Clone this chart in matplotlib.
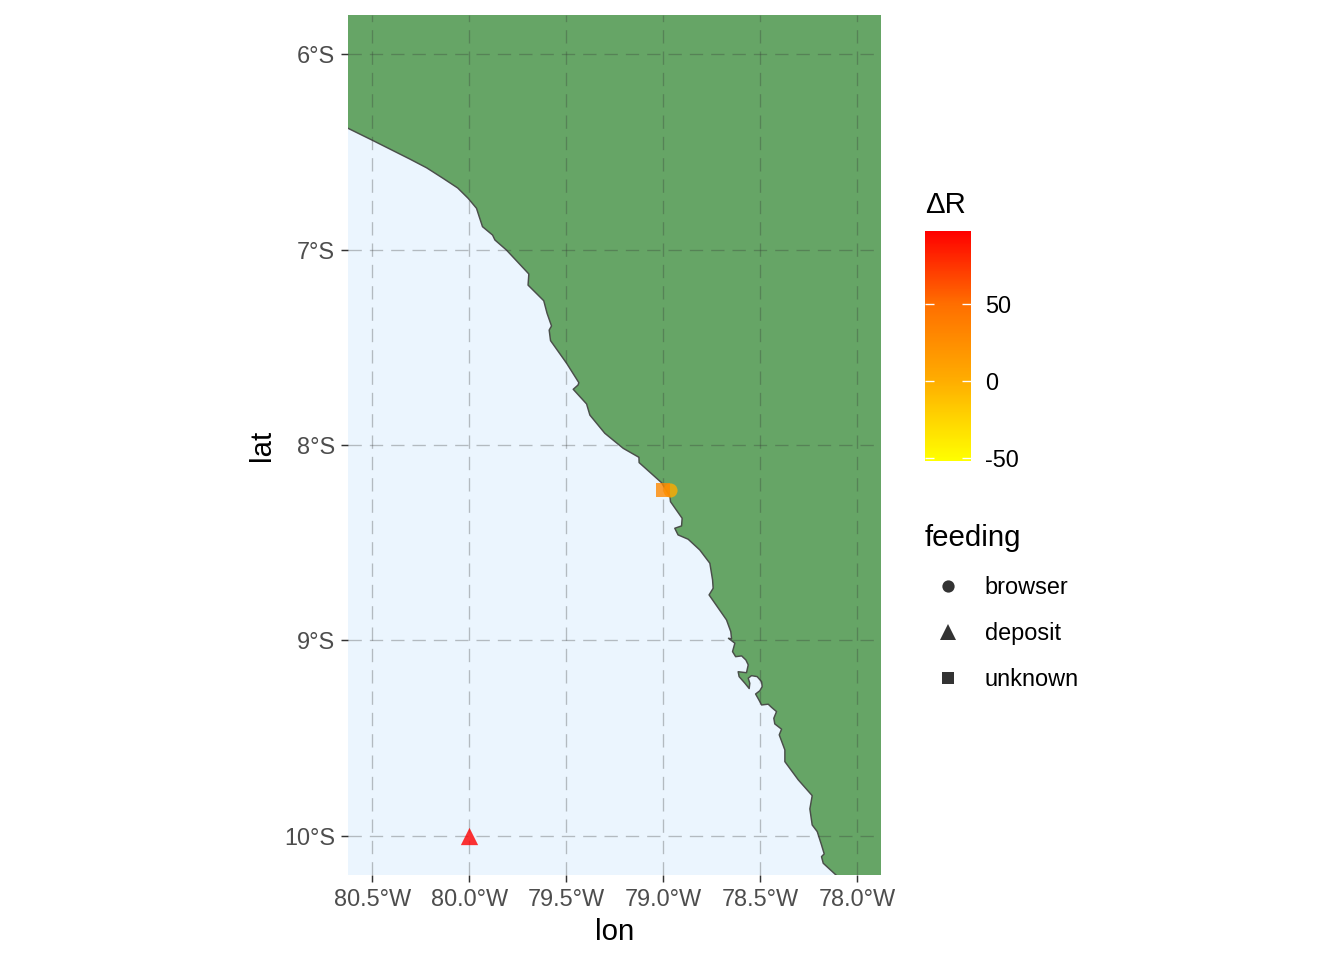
import matplotlib
matplotlib.use("Agg")
import matplotlib.pyplot as plt
from matplotlib.colors import LinearSegmentedColormap
from matplotlib.lines import Line2D
import numpy as np

plt.rcParams['font.family'] = ['Liberation Sans', 'DejaVu Sans']
plt.rcParams['axes.unicode_minus'] = False

# coastline, north to south
coast_lon = [-80.70, -80.625, -80.496, -80.307, -80.22, -80.135, -80.060, -80.006, -79.963, -79.949, -79.932, -79.880,
             -79.868, -79.808, -79.693, -79.697, -79.616, -79.599, -79.576, -79.588, -79.581, -79.498,
             -79.435, -79.439, -79.464, -79.395, -79.378, -79.301, -79.206, -79.125, -79.124, -79.008,
             -78.965, -78.962, -78.902, -78.905, -78.940, -78.923, -78.871, -78.811, -78.759, -78.745,
             -78.742, -78.763, -78.673, -78.651, -78.647, -78.663, -78.630, -78.642, -78.626, -78.595,
             -78.573, -78.561, -78.570, -78.613, -78.608, -78.578, -78.556, -78.553, -78.561, -78.544,
             -78.515, -78.492, -78.489, -78.501, -78.523, -78.506, -78.492, -78.458, -78.441, -78.415,
             -78.429, -78.424, -78.389, -78.401, -78.372, -78.372, -78.303,
             -78.231, -78.243, -78.231, -78.205, -78.183, -78.169, -78.183, -78.174, -78.105, -78.05]
coast_lat = [-6.34, -6.380, -6.443, -6.537, -6.582, -6.636, -6.685, -6.738, -6.789, -6.832, -6.883, -6.926,
             -6.951, -7.003, -7.125, -7.182, -7.262, -7.326, -7.391, -7.412, -7.466, -7.582,
             -7.681, -7.693, -7.715, -7.790, -7.847, -7.940, -8.017, -8.063, -8.090, -8.193,
             -8.264, -8.290, -8.375, -8.414, -8.426, -8.460, -8.482, -8.537, -8.605, -8.690,
             -8.733, -8.767, -8.895, -8.955, -8.992, -8.989, -9.014, -9.057, -9.083, -9.079,
             -9.100, -9.125, -9.165, -9.160, -9.185, -9.219, -9.246, -9.219, -9.193, -9.180,
             -9.185, -9.211, -9.236, -9.257, -9.274, -9.304, -9.330, -9.326, -9.342, -9.364,
             -9.398, -9.427, -9.454, -9.483, -9.560, -9.620, -9.713,
             -9.794, -9.862, -9.944, -9.978, -10.046, -10.092, -10.106, -10.140, -10.203, -10.25]

# sites
site_lon = [-78.965, -80.0, -79.0]
site_lat = [-8.23, -10.0, -8.23]
site_dr = [2, 97, 30]
site_feeding = ['browser', 'deposit', 'unknown']
feeding_names = ['browser', 'deposit', 'unknown']
feeding_markers = ['o', '^', 's']
feeding_sizes = [28, 42, 28]
key_sizes = [4.6, 6.2, 4.6]

lon_ticks = [-80.5, -80.0, -79.5, -79.0, -78.5, -78.0]
lat_ticks = [-6, -7, -8, -9, -10]
dr_ticks = [-50, 0, 50]

W, H = 1344, 960
def fig_box(x0, y0, x1, y1):
    return [x0 / W, 1 - y1 / H, (x1 - x0) / W, (y1 - y0) / H]

fig = plt.figure(figsize=(7, 5), dpi=192)
ax = fig.add_axes(fig_box(348, 15, 881, 875))
ax.set_facecolor('#EBF5FE')
ax.set_xlim(-80.626, -77.876)
ax.set_ylim(-10.2, -5.8)

land_lon = coast_lon + [-77.7, -77.7, -80.7]
land_lat = coast_lat + [-10.25, -5.7, -5.7]
ax.fill(land_lon, land_lat, color='#66A566', lw=0, zorder=1)
ax.plot(coast_lon, coast_lat, color='#4A4F4A', lw=0.55, zorder=2)

ax.grid(True, color='#333333', alpha=0.3, lw=0.5, ls=(0, (10, 6)), zorder=3)
ax.set_axisbelow(False)

cmap = LinearSegmentedColormap.from_list(
    'dr', [(0, '#FFFF00'), (0.35, '#FFAD00'), (0.685, '#FF6E00'), (1, '#FF0000')])
dr_min, dr_max = -52, 97.5
norm = plt.Normalize(dr_min, dr_max)

for name, marker, size in zip(feeding_names, feeding_markers, feeding_sizes):
    idx = [i for i, f in enumerate(site_feeding) if f == name]
    ax.scatter([site_lon[i] for i in idx], [site_lat[i] for i in idx],
               c=[site_dr[i] for i in idx], cmap=cmap, norm=norm, marker=marker,
               s=size, alpha=0.8, linewidths=0, zorder=4, clip_on=False)

for s in ax.spines.values():
    s.set_visible(False)
ax.set_xticks(lon_ticks)
ax.set_xticklabels([f'{abs(v):.1f}°W' for v in lon_ticks])
ax.set_yticks(lat_ticks)
ax.set_yticklabels([f'{abs(v)}°S' for v in lat_ticks])
ax.tick_params(length=2.75, width=0.55, color='#333333', labelcolor='#4D4D4D', labelsize=8.8, pad=2)
ax.set_xlabel('lon', fontsize=11, labelpad=2.9)
ax.set_ylabel('lat', fontsize=11, labelpad=2.9)

# colour bar
cax = fig.add_axes(fig_box(925, 231, 971, 461))
sm = plt.cm.ScalarMappable(norm=norm, cmap=cmap)
cb = fig.colorbar(sm, cax=cax, ticks=dr_ticks)
cb.outline.set_visible(False)
cb.ax.tick_params(length=0, labelsize=8.8, pad=5.4)
cb.ax.hlines(dr_ticks, 0, 0.2, color='white', lw=0.5, transform=cb.ax.get_yaxis_transform())
cb.ax.hlines(dr_ticks, 0.8, 1, color='white', lw=0.5, transform=cb.ax.get_yaxis_transform())
fig.text(925 / W, 1 - 205 / H, 'ΔR', fontsize=11, va='center', ha='left')

# shape legend
handles = [Line2D([], [], ls='', marker=m, color='#333333', markersize=k, markeredgewidth=0)
           for m, k in zip(feeding_markers, key_sizes)]
leg = fig.legend(handles, feeding_names, loc='upper left', bbox_to_anchor=(925 / W, 1 - 524 / H),
                 frameon=False, title='feeding', fontsize=8.8, title_fontsize=11, alignment='left',
                 borderaxespad=0, borderpad=0, labelspacing=0.98, handlelength=1.98, handletextpad=0.57)
leg._legend_box.sep = 8.9

fig.savefig('out.png', dpi=192)
